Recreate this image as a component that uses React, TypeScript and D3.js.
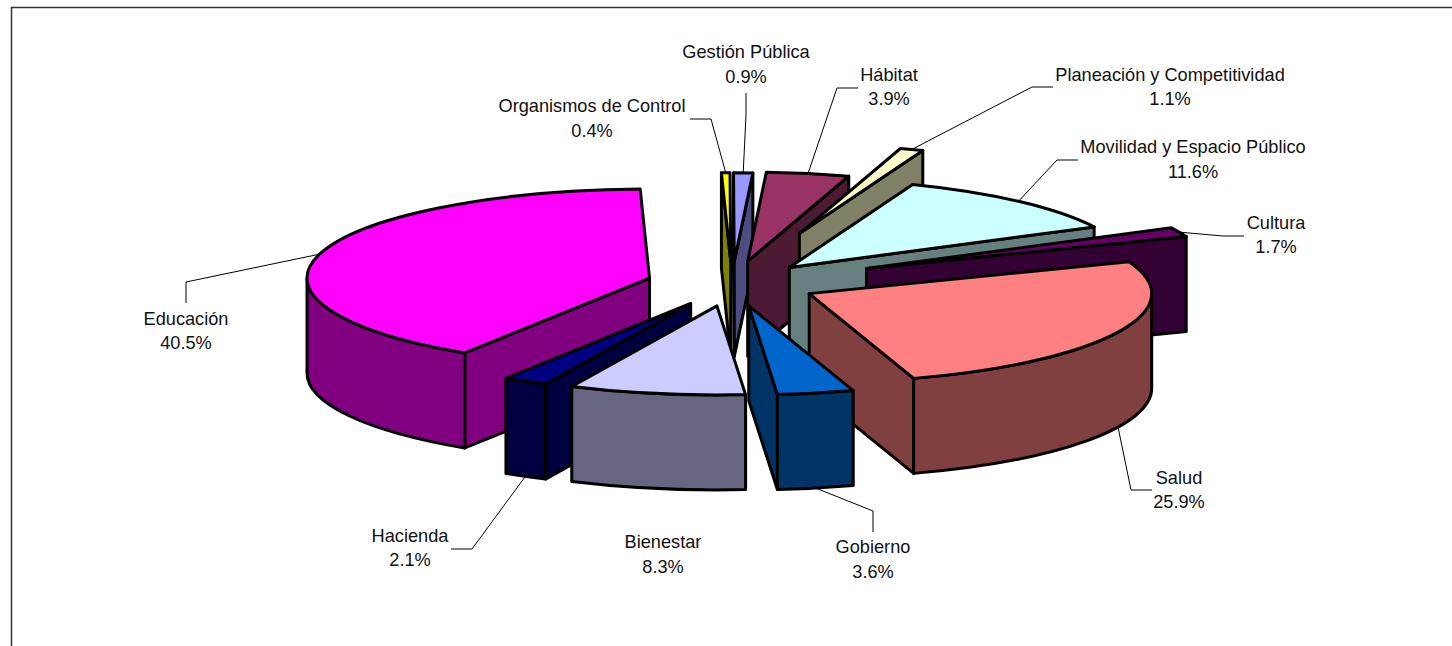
import React, { useRef, useEffect } from "react";
import * as d3 from "d3";

// Slices, clockwise from the start angle
const categories = ["Salud", "Gobierno", "Bienestar", "Hacienda", "Educación", "Organismos de Control", "Gestión Pública", "Hábitat", "Planeación y Competitividad", "Movilidad y Espacio Público", "Cultura"];
const shares = [25.9, 3.6, 8.3, 2.1, 40.5, 0.4, 0.9, 3.9, 1.1, 11.6, 1.7];
const explosions = [0.25, 0.25, 0.25, 0.25, 0.25, 0.25, 0.25, 0.26, 0.6, 0.25, 0.43];
const topColors = ["#FF8080", "#0066CC", "#CCCCFF", "#000080", "#FF00FF", "#FFFF00", "#9999FF", "#993366", "#FFFFCC", "#CCFFFF", "#660066"];

// Back to front
const drawOrder = [4, 5, 6, 7, 8, 9, 10, 0, 3, 2, 1];

// Label centre x, first baseline, second baseline
const labelX = [1179, 873, 663, 410, 186, 592, 746, 889, 1170, 1193, 1276];
const labelY1 = [484, 553, 548, 542, 325, 112, 58, 81, 81, 153, 229];
const labelY2 = [508, 578, 573, 566, 349, 137, 83, 105, 105, 178, 253];

// Leader lines: outer end, then elbow (the inner end comes from the slice)
const leaderStart: ([number, number] | null)[] = [[1152, 490], [873, 532], null, [451, 549], [186, 303], [690, 119], [746, 93], [858, 88], [1053, 87], [1078, 160], [1244, 236]];
const leaderElbow: ([number, number] | null)[] = [[1131, 490], [873, 511], null, [472, 549], [186, 282], [711, 119], [746, 115], [837, 88], [1032, 87], [1057, 160], [1223, 236]];

const WIDTH = 1452;
const HEIGHT = 646;
const cx = 732;
const cy = 284;
const rx = 342.5;
const ry = 89;
const depth = 95;
const startDeg = 69;
const FONT = "'Liberation Sans', Arial, sans-serif";

function App() {
  const svgRef = useRef<SVGSVGElement>(null);

  useEffect(() => {
    const svg = d3.select(svgRef.current);
    svg.selectAll("*").remove();

    // frame: only top and left are inside the picture
    svg.append("path")
      .attr("d", `M11.5,${HEIGHT} V7.5 H${WIDTH}`)
      .attr("fill", "none")
      .attr("stroke", "#333")
      .attr("stroke-width", 1.5);

    const start = (startDeg * Math.PI) / 180;
    const arcs = d3.pie<number>().sort(null).startAngle(start).endAngle(start + 2 * Math.PI)(shares);

    const ringX = (t: number) => rx * Math.sin(t);
    const ringY = (t: number) => -ry * Math.cos(t);

    const slices = arcs.map((a, i) => {
      const mid = (a.startAngle + a.endAngle) / 2;
      const ax = cx + explosions[i] * ringX(mid);
      const ay = cy + explosions[i] * ringY(mid);
      return { i, t0: a.startAngle, t1: a.endAngle, mid, ax, ay };
    });

    const stroke = (sel: any) =>
      sel.attr("stroke", "#000").attr("stroke-width", 3).attr("stroke-linejoin", "round");

    drawOrder.forEach((idx) => {
      const { t0, t1, ax, ay, i } = slices[idx];
      const top = d3.color(topColors[i])!.rgb();
      const side = d3.rgb(top.r * 0.5, top.g * 0.5, top.b * 0.5).formatHex();
      const g = svg.append("g");

      const px = (t: number) => ax + ringX(t);
      const py = (t: number) => ay + ringY(t);

      const cutFace = (t: number) =>
        g.append("path")
          .attr("d", `M${ax},${ay} L${px(t)},${py(t)} V${py(t) + depth} L${ax},${ay + depth} Z`)
          .attr("fill", side)
          .call(stroke);

      // flat cut faces, only those turned to the viewer
      if (Math.sin(t0) < 0) cutFace(t0);
      if (Math.sin(t1) > 0) cutFace(t1);

      // outer wall, front half of the ellipse only
      for (const turn of [0, 2 * Math.PI]) {
        const a = Math.max(t0, Math.PI / 2 + turn);
        const b = Math.min(t1, (3 * Math.PI) / 2 + turn);
        if (b > a) {
          g.append("path")
            .attr("d", `M${px(a)},${py(a)} A${rx},${ry} 0 0 1 ${px(b)},${py(b)} V${py(b) + depth} A${rx},${ry} 0 0 0 ${px(a)},${py(a) + depth} Z`)
            .attr("fill", side)
            .call(stroke);
        }
      }

      const large = t1 - t0 > Math.PI ? 1 : 0;
      g.append("path")
        .attr("d", `M${ax},${ay} L${px(t0)},${py(t0)} A${rx},${ry} 0 ${large} 1 ${px(t1)},${py(t1)} Z`)
        .attr("fill", topColors[i])
        .call(stroke);
    });

    // leaders
    slices.forEach((s) => {
      const outer = leaderStart[s.i];
      const elbow = leaderElbow[s.i];
      if (!outer || !elbow) return;
      const front = Math.cos(s.mid) < 0;
      const inner: [number, number] = [s.ax + ringX(s.mid), s.ay + ringY(s.mid) + (front ? depth : 0)];
      svg.append("path")
        .attr("d", d3.line()([outer, elbow, inner]))
        .attr("fill", "none")
        .attr("stroke", "#000")
        .attr("stroke-width", 1);
    });

    // labels
    categories.forEach((name, i) => {
      const text = svg.append("text")
        .attr("text-anchor", "middle")
        .attr("font-family", FONT)
        .attr("font-size", 18.2)
        .attr("fill", "#111");
      text.append("tspan").attr("x", labelX[i]).attr("y", labelY1[i]).text(name);
      text.append("tspan").attr("x", labelX[i]).attr("y", labelY2[i]).text(`${shares[i].toFixed(1)}%`);
    });
  }, []);

  return (
    <svg
      ref={svgRef}
      width={WIDTH}
      height={HEIGHT}
      style={{ position: "absolute", left: 0, top: 0, display: "block", background: "#fff" }}
    />
  );
}

export default App;
